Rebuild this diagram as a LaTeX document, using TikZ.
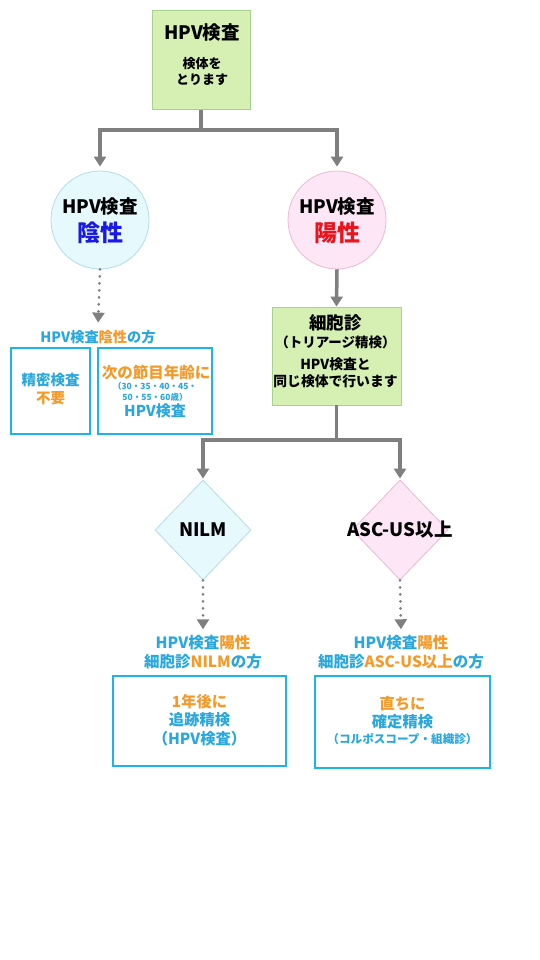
\documentclass[tikz,border=0pt]{standalone}
\usepackage{fontspec}
\setmainfont{Noto Sans CJK JP}
\usetikzlibrary{shapes.geometric, positioning, arrows.meta}

\definecolor{gris}{HTML}{7F7F7F}
\definecolor{vertfond}{HTML}{D6F0B4}
\definecolor{vertbord}{HTML}{A9D18E}
\definecolor{cyanfond}{HTML}{E6F9FC}
\definecolor{cyanbord}{HTML}{B4DDE8}
\definecolor{rosefond}{HTML}{FDE6F5}
\definecolor{rosebord}{HTML}{EDB9D3}
\definecolor{bleuclair}{HTML}{2AA7DC}
\definecolor{cadre}{HTML}{1FB4E8}
\definecolor{orange}{HTML}{F39A2B}
\definecolor{bleu}{HTML}{1A1AE6}
\definecolor{rouge}{HTML}{E8141E}

\tikzset{
  etape/.style={draw=vertbord, fill=vertfond, line width=0.8pt, align=center, inner sep=0pt},
  rond/.style={circle, line width=0.8pt, minimum size=98pt, inner sep=0pt, align=center},
  losange/.style={diamond, line width=0.8pt, minimum width=96pt, minimum height=100pt, inner sep=0pt},
  cadrebleu/.style={draw=cadre, line width=2.4pt, align=center, inner sep=0pt, text=bleuclair},
  trait/.style={gris, line width=3.5pt},
  fleche/.style={trait, -{Triangle[width=12pt,length=10pt]}},
  pointille/.style={gris, line width=3pt, line cap=round, dash pattern=on 0pt off 7pt, -{Triangle[width=12pt,length=10pt]}},
  titre/.style={font=\bfseries\fontsize{18.5}{21}\selectfont},
  petit/.style={font=\bfseries\fontsize{13}{16}\selectfont},
}

\begin{document}
\begin{tikzpicture}[x=1pt, y=-1pt]
  \useasboundingbox (0,0) rectangle (540,960);

  % Etape de depart
  \node[etape, minimum width=98pt, minimum height=99pt] (hpv) at (201,60) {};
  \node[titre] at (202,33) {HPV検査};
  \node[petit, align=center] at (202,72) {検体を\\とります};

  % Resultats HPV
  \node[rond, draw=cyanbord, fill=cyanfond] (neg) at (100,220) {};
  \node[titre] at (100,207) {HPV検査};
  \node[font=\bfseries\fontsize{23}{26}\selectfont, text=bleu] at (100,233) {陰性};
  \node[rond, draw=rosebord, fill=rosefond] (pos) at (337,220) {};
  \node[titre] at (337,207) {HPV検査};
  \node[font=\bfseries\fontsize{23}{26}\selectfont, text=rouge] at (337,233) {陽性};

  \coordinate (j1) at (201,130);
  \draw[trait] (hpv.south) -- (j1);
  \draw[fleche, shorten >=4pt] (j1) -| (neg.north);
  \draw[fleche, shorten >=4pt] (j1) -| (pos.north);

  % Cas negatif
  \node[font=\bfseries\fontsize{14.2}{17}\selectfont, text=bleuclair] (negtxt) at (98,337) {HPV検査\textcolor{orange}{陰性}の方};
  \draw[pointille, shorten >=4pt] (neg.south) -- (negtxt.north);
  \node[cadrebleu, minimum width=79pt, minimum height=86pt] (rien) at (50.5,391) {};
  \node[font=\bfseries\fontsize{14.5}{18}\selectfont, text=bleuclair, align=center] at (50.5,389) {精密検査\\\textcolor{orange}{不要}};
  \node[cadrebleu, minimum width=114pt, minimum height=86pt] (suivant) at (155,391) {};
  \node[font=\bfseries\fontsize{15.5}{18}\selectfont, text=orange] at (156,373) {次の節目年齢に};
  \node[font=\bfseries\fontsize{8.5}{10.5}\selectfont, text=bleuclair, align=center] at (155,392) {（30・35・40・45・\\50・55・60歳）};
  \node[font=\bfseries\fontsize{15}{18}\selectfont, text=bleuclair] at (155,411) {HPV検査};

  % Cytologie
  \node[etape, minimum width=129pt, minimum height=98pt] (cyto) at (336.5,356) {};
  \node[titre, font=\bfseries\fontsize{17.5}{20}\selectfont] at (335.5,323) {細胞診};
  \node[petit, font=\bfseries\fontsize{13.5}{16}\selectfont] at (335.5,342) {（トリアージ精検）};
  \node[font=\bfseries\fontsize{13.8}{17}\selectfont, align=center] at (335.5,373) {HPV検査と\\同じ検体で行います};
  \draw[fleche] (pos.south) -- (cyto.north);

  % Resultats cytologie
  \node[losange, draw=cyanbord, fill=cyanfond] (nilm) at (203,530) {};
  \node[titre] at (203,530) {NILM};
  \node[losange, draw=rosebord, fill=rosefond] (asc) at (400,530) {};
  \node[titre] at (400,530) {ASC-US以上};

  \coordinate (j2) at (336.5,440);
  \draw[trait] (cyto.south) -- (j2);
  \draw[fleche, shorten >=1pt] (j2) -| (nilm.north);
  \draw[fleche, shorten >=1pt] (j2) -| (asc.north);

  % Suivi
  \node[font=\bfseries\fontsize{15.5}{19.5}\selectfont, text=bleuclair, align=center] (nilmtxt) at (203,652)
    {HPV検査\textcolor{orange}{陽性}\\細胞診\textcolor{orange}{NILM}の方};
  \draw[pointille, shorten >=2pt] (nilm.south) -- (nilmtxt.north);
  \node[cadrebleu, minimum width=173pt, minimum height=90pt] (unan) at (199.5,721) {};
  \node[font=\bfseries\fontsize{15.3}{18.5}\selectfont, text=bleuclair, align=center] at (199.5,720)
    {\textcolor{orange}{1年後に}\\追跡精検\\（HPV検査）};

  \node[font=\bfseries\fontsize{15.5}{19.5}\selectfont, text=bleuclair, align=center] (asctxt) at (401,652)
    {HPV検査\textcolor{orange}{陽性}\\細胞診\textcolor{orange}{ASC-US以上}の方};
  \draw[pointille, shorten >=2pt] (asc.south) -- (asctxt.north);
  \node[cadrebleu, minimum width=175pt, minimum height=92pt] (direct) at (402.5,722) {};
  \node[font=\bfseries\fontsize{15.3}{18}\selectfont, text=bleuclair, align=center] at (402.5,713)
    {\textcolor{orange}{直ちに}\\確定精検};
  \node[font=\bfseries\fontsize{11.6}{14}\selectfont, text=bleuclair] at (402.5,739) {（コルポスコープ・組織診）};
\end{tikzpicture}
\end{document}
